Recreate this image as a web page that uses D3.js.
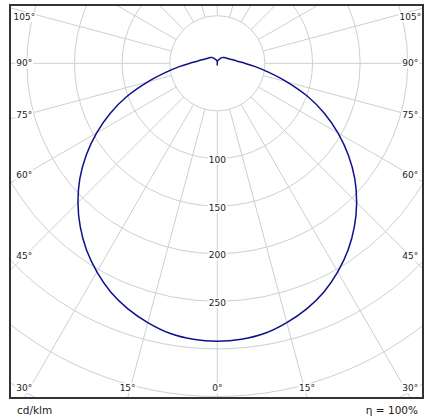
<!DOCTYPE html>
<html><head><meta charset="utf-8">
<script src="https://cdn.jsdelivr.net/npm/d3@7"></script>
<style>
html,body{margin:0;padding:0;background:#fff;}
svg{display:block;}
text{font-family:"DejaVu Sans",Verdana,sans-serif;fill:#1a1a1a;}
</style></head>
<body><svg id="c" width="436" height="420"></svg>
<script>
// ---- data (cd/klm, angle from nadir, symmetric curve) ----
const angles = [0,5,10,15,20,25,30,35,40,45,50,55,60,65,70,75,80,85,90,95,100,105,110,115,120,125,130,135,140,145,150,155,160,165,170,175,180];
const intensity = [292,291,288,282,274.5,265,253,239.5,224,207,188.5,168,146.5,124,100.5,76,55,40,29,22,18.5,15.5,13.5,12,11,10.2,9.5,8.6,7.8,6.6,5.5,4.6,3.9,3.3,2.9,2.7,-2.4];
const gridValues = [50,100,150,200,250,300,350,400];
const valueLabels = [100,150,200,250];
const angleTicks = [0,15,30,45,60,75,90,105];
const unitLabel = "cd/klm";
const effLabel = "η = 100%";

const svg = d3.select("#c");
const cx = 217.3, cy = 63.3;
const frame = {x:10, y:5, w:413, h:393};
const r = d3.scaleLinear().domain([0,350]).range([0,333.2]);

svg.append("defs").append("clipPath").attr("id","clip")
  .append("rect").attr("x",frame.x).attr("y",frame.y).attr("width",frame.w).attr("height",frame.h);

const g = svg.append("g").attr("clip-path","url(#clip)");
const grid = g.append("g").attr("transform",`translate(${cx},${cy})`);

grid.selectAll("circle").data(gridValues).join("circle")
  .attr("r",d=>r(d)).attr("fill","none").attr("stroke","#cfcfcf").attr("stroke-width",1);

const spokes = d3.range(0,360,15);
grid.selectAll("line").data(spokes).join("line")
  .attr("x1",d=>r(50)*Math.sin(d*Math.PI/180))
  .attr("y1",d=>r(50)*Math.cos(d*Math.PI/180))
  .attr("x2",d=>r(500)*Math.sin(d*Math.PI/180))
  .attr("y2",d=>r(500)*Math.cos(d*Math.PI/180))
  .attr("stroke","#cfcfcf").attr("stroke-width",1);

// curve
const pts = [];
for (let i = angles.length-1; i >= 0; i--) pts.push([Math.PI + angles[i]*Math.PI/180, intensity[i]]);
for (let i = 1; i < angles.length; i++) pts.push([Math.PI - angles[i]*Math.PI/180, intensity[i]]);
const line = d3.lineRadial().angle(d=>d[0]).radius(d=>r(d[1])).curve(d3.curveCatmullRom.alpha(0.5));
grid.append("path").attr("d",line(pts)).attr("fill","none")
  .attr("stroke","#10108a").attr("stroke-width",1.5).attr("stroke-linejoin","round");

// labels with white background
const labG = g.append("g");
function label(x,y,txt,size){
  const gg = labG.append("g");
  const t = gg.append("text").attr("x",x).attr("y",y).attr("dy","0.35em")
    .attr("text-anchor","middle").style("font-size",size+"px").text(txt);
  const b = t.node().getBBox();
  gg.insert("rect","text").attr("x",b.x-1).attr("y",b.y).attr("width",b.width+2).attr("height",b.height).attr("fill","#fff");
}
valueLabels.forEach(v=>label(cx, cy + r(v) + 1.5, String(v), 9));

angleTicks.forEach(a=>{
  const rad = a*Math.PI/180;
  const s = Math.sin(rad), c = Math.cos(rad);
  let t = s > 1e-6 ? 193/s : Infinity;
  if (c > 1e-6) t = Math.min(t, 334.7/c);
  let y = cy + t*c; y = Math.max(17, Math.min(388, y));
  const dx = t*s;
  label(cx - dx, y, a+"°", 9);
  if (a !== 0) label(cx + dx, y, a+"°", 9);
});

// frame
svg.append("rect").attr("x",frame.x).attr("y",frame.y).attr("width",frame.w).attr("height",frame.h)
  .attr("fill","none").attr("stroke","#333").attr("stroke-width",2);

svg.append("text").attr("x",17).attr("y",414).style("font-size","10.5px").text(unitLabel);
svg.append("text").attr("x",418).attr("y",414).attr("text-anchor","end").style("font-size","10.5px").text(effLabel);
</script></body></html>
